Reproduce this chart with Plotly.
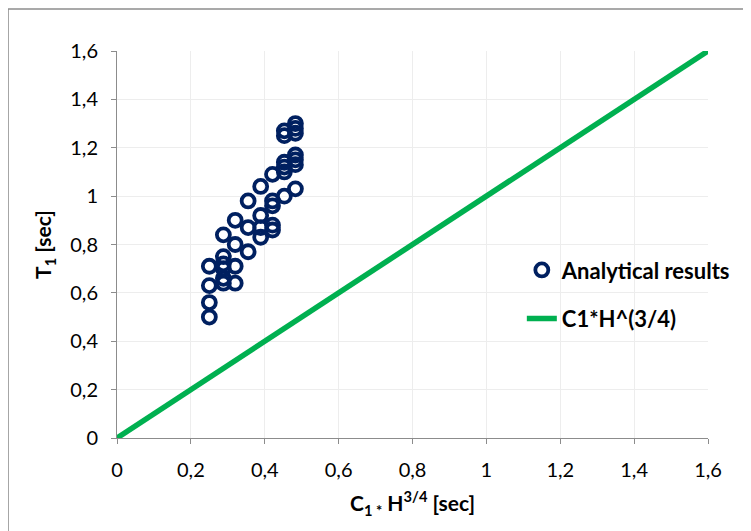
import plotly.graph_objects as go

# Analytical results (x: C1*H^(3/4) [sec], y: T1 [sec])
pts_x = [0.25, 0.25, 0.25, 0.25,
         0.288, 0.288, 0.288, 0.288, 0.288, 0.288,
         0.32, 0.32, 0.32, 0.32,
         0.355, 0.355, 0.355,
         0.389, 0.389, 0.389, 0.389,
         0.421, 0.421, 0.421, 0.421, 0.421,
         0.453, 0.453, 0.453, 0.453, 0.453, 0.453,
         0.483, 0.483, 0.483, 0.483, 0.483, 0.483, 0.483]
pts_y = [0.50, 0.56, 0.63, 0.71,
         0.64, 0.66, 0.70, 0.72, 0.75, 0.84,
         0.64, 0.71, 0.80, 0.90,
         0.77, 0.87, 0.98,
         0.83, 0.87, 0.92, 1.04,
         0.86, 0.88, 0.96, 0.98, 1.09,
         1.00, 1.10, 1.12, 1.14, 1.25, 1.27,
         1.03, 1.13, 1.15, 1.17, 1.26, 1.28, 1.30]

# Reference line C1*H^(3/4)
line_x = [0, 1.6]
line_y = [0, 1.6]

tick_vals = [0, 0.2, 0.4, 0.6, 0.8, 1.0, 1.2, 1.4, 1.6]
tick_text = ["0", "0,2", "0,4", "0,6", "0,8", "1", "1,2", "1,4", "1,6"]

FONT = "Lato, Open Sans, sans-serif"

fig = go.Figure()
fig.add_trace(go.Scatter(
    x=pts_x, y=pts_y, mode="markers", name="Analytical results",
    marker=dict(symbol="circle-open", size=13, color="#002060",
                line=dict(width=3.8, color="#002060")),
    legendgroup="a"))
fig.add_trace(go.Scatter(
    x=line_x, y=line_y, mode="lines", name="C1*H^(3/4)",
    line=dict(color="#00B050", width=5.5), legendgroup="b"))

fig.update_layout(
    width=751, height=531,
    margin=dict(l=109, r=51, t=43, b=101),
    paper_bgcolor="white", plot_bgcolor="white",
    font=dict(family=FONT, size=20, color="#000000"),
    showlegend=True,
    legend=dict(x=0.685, y=0.488, xanchor="left", yanchor="top",
                bgcolor="rgba(0,0,0,0)", traceorder="grouped",
                tracegroupgap=17,
                font=dict(family=FONT, size=22, color="#000000", weight="bold")),
    xaxis=dict(range=[0, 1.6], tickvals=tick_vals, ticktext=tick_text,
               showgrid=True, gridcolor="#EDEDED", gridwidth=1,
               showline=True, linecolor="#8C8C8C", linewidth=1,
               ticks="outside", ticklen=5, tickcolor="#8C8C8C",
               ticklabelstandoff=9,
               zeroline=False, tickfont=dict(size=20),
               title=dict(text="<b>C<sub>1 *</sub> H<sup>3/4</sup> [sec]</b>",
                          font=dict(size=21), standoff=16)),
    yaxis=dict(range=[0, 1.6], tickvals=tick_vals, ticktext=tick_text,
               showgrid=True, gridcolor="#EDEDED", gridwidth=1,
               showline=True, linecolor="#8C8C8C", linewidth=1,
               ticks="outside", ticklen=5, tickcolor="#8C8C8C",
               ticklabelstandoff=9,
               zeroline=False, tickfont=dict(size=20),
               title=dict(text="<b>T<sub>1</sub> [sec]</b>",
                          font=dict(size=21), standoff=12)),
    shapes=[
        dict(type="line", xref="paper", yref="paper", x0=-0.1844, x1=1.1,
             y0=1.1085, y1=1.1085, line=dict(color="#8C8C8C", width=1.5)),
        dict(type="line", xref="paper", yref="paper", x0=-0.1844, x1=-0.1844,
             y0=1.1085, y1=-0.27, line=dict(color="#8C8C8C", width=1.5)),
    ],
)

fig.write_html("out.html")
